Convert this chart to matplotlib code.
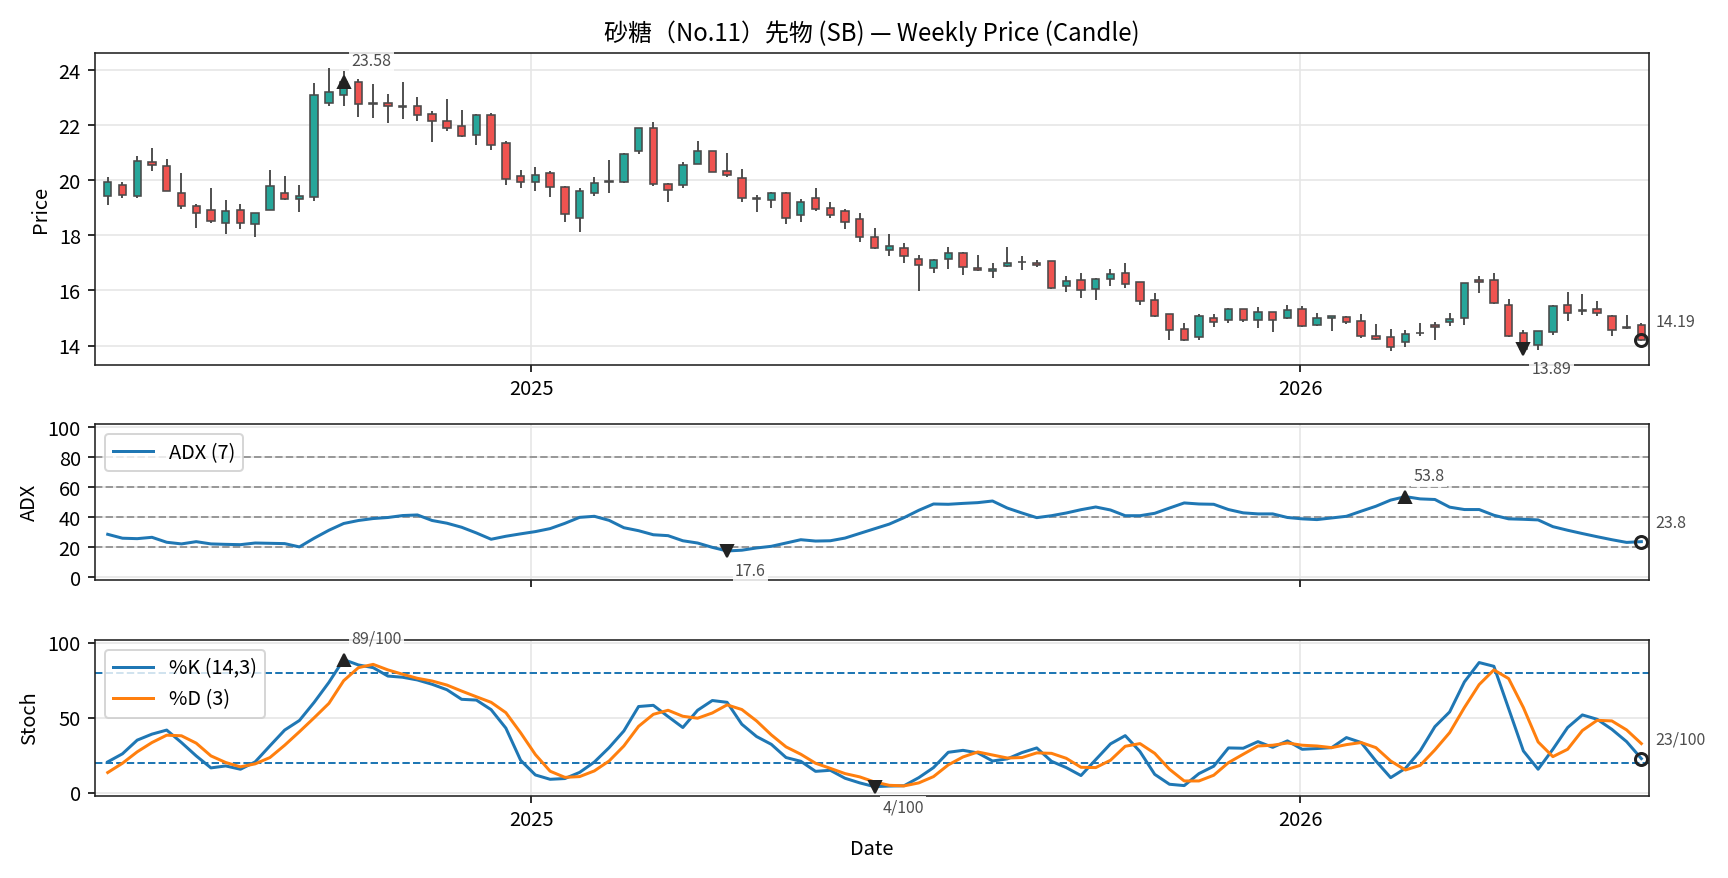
import matplotlib
matplotlib.use("Agg")
import matplotlib.pyplot as plt
import matplotlib.dates as mdates
import numpy as np
import pandas as pd

plt.rcParams['font.family'] = ['Noto Sans CJK JP', 'DejaVu Sans']
plt.rcParams['axes.edgecolor'] = '#222222'

# weekly bars (Fridays)
dates = pd.date_range('2024-06-14', periods=105, freq='W-FRI')

opens = [19.44, 19.84, 19.43, 20.68, 20.54, 19.55, 19.08, 18.93, 18.46, 18.92,
         18.42, 18.92, 19.55, 19.32, 19.39, 22.82, 23.11, 23.56, 22.80, 22.81,
         22.68, 22.69, 22.42, 22.14, 21.96, 21.65, 22.36, 21.34, 20.17, 19.94,
         20.25, 19.77, 18.63, 19.54, 19.93, 19.93, 21.08, 21.89, 19.88, 19.83,
         20.60, 21.07, 20.35, 20.10, 19.34, 19.29, 19.55, 18.75, 19.37, 19.01,
         18.88, 18.58, 17.95, 17.47, 17.56, 17.15, 16.83, 17.13, 17.37, 16.81,
         16.71, 16.88, 17.02, 17.01, 17.07, 16.15, 16.38, 16.04, 16.41, 16.62,
         16.30, 15.65, 15.13, 14.60, 14.30, 15.00, 14.91, 15.32, 14.91, 15.21,
         15.00, 15.34, 14.73, 15.00, 15.04, 14.89, 14.34, 14.30, 14.11, 14.44,
         14.75, 14.84, 15.00, 16.37, 16.38, 15.49, 14.46, 14.01, 14.49, 15.47,
         15.30, 15.34, 15.07, 14.66, 14.74]
highs = [20.14, 19.93, 20.88, 21.18, 20.78, 20.27, 19.14, 19.72, 19.29, 19.14,
         18.82, 20.38, 20.16, 19.83, 23.55, 24.10, 23.98, 23.67, 23.51, 23.15,
         23.56, 23.04, 22.53, 22.97, 22.57, 22.42, 22.46, 21.42, 20.37, 20.49,
         20.33, 19.80, 19.71, 20.12, 20.74, 20.99, 21.90, 22.13, 19.89, 20.67,
         21.44, 21.08, 20.99, 20.42, 19.47, 19.56, 19.57, 19.31, 19.72, 19.20,
         18.96, 18.81, 18.26, 18.05, 17.72, 17.28, 17.13, 17.57, 17.39, 17.28,
         16.98, 17.57, 17.24, 17.10, 17.08, 16.54, 16.65, 16.47, 16.79, 16.99,
         16.32, 15.92, 15.14, 14.83, 15.15, 15.15, 15.37, 15.33, 15.39, 15.22,
         15.46, 15.45, 15.19, 15.09, 15.08, 15.13, 14.80, 14.61, 14.58, 14.83,
         14.85, 15.19, 16.27, 16.54, 16.65, 15.70, 14.57, 14.53, 15.48, 15.96,
         15.88, 15.63, 15.11, 15.12, 14.81]
lows = [19.12, 19.35, 19.35, 20.35, 19.60, 18.97, 18.28, 18.44, 18.06, 18.24,
        17.95, 18.92, 19.27, 18.86, 19.26, 22.69, 22.72, 22.32, 22.27, 22.10,
        22.24, 22.14, 21.40, 21.81, 21.59, 21.27, 21.12, 19.84, 19.74, 19.63,
        19.41, 18.50, 18.13, 19.44, 19.55, 19.89, 20.94, 19.78, 19.22, 19.71,
        20.59, 20.29, 20.11, 19.22, 18.86, 19.01, 18.42, 18.50, 18.87, 18.64,
        18.24, 17.77, 17.51, 17.26, 17.01, 15.98, 16.65, 16.78, 16.58, 16.69,
        16.45, 16.87, 16.75, 16.86, 16.05, 15.94, 15.73, 15.65, 16.16, 16.09,
        15.47, 15.04, 14.21, 14.16, 14.21, 14.68, 14.81, 14.85, 14.63, 14.49,
        14.97, 14.68, 14.70, 14.52, 14.79, 14.27, 14.21, 13.79, 13.95, 14.34,
        14.19, 14.70, 14.74, 15.91, 15.52, 14.32, 13.85, 13.83, 14.38, 14.89,
        15.11, 15.07, 14.34, 14.61, 14.15]
closes = [19.95, 19.48, 20.72, 20.56, 19.61, 19.08, 18.82, 18.52, 18.90, 18.46,
          18.82, 19.81, 19.32, 19.44, 23.09, 23.21, 23.58, 22.77, 22.76, 22.70,
          22.66, 22.38, 22.14, 21.90, 21.62, 22.36, 21.29, 20.05, 19.95, 20.21,
          19.77, 18.79, 19.60, 19.92, 19.97, 20.97, 21.89, 19.87, 19.65, 20.57,
          21.08, 20.31, 20.18, 19.36, 19.32, 19.55, 18.63, 19.22, 18.96, 18.75,
          18.50, 17.95, 17.56, 17.60, 17.26, 16.93, 17.11, 17.37, 16.84, 16.73,
          16.77, 17.00, 17.05, 16.92, 16.08, 16.35, 16.02, 16.43, 16.60, 16.22,
          15.60, 15.09, 14.55, 14.21, 15.07, 14.87, 15.32, 14.91, 15.21, 14.91,
          15.29, 14.70, 15.00, 15.08, 14.84, 14.36, 14.23, 13.93, 14.41, 14.47,
          14.68, 14.97, 16.26, 16.30, 15.56, 14.34, 13.89, 14.52, 15.43, 15.17,
          15.24, 15.17, 14.55, 14.63, 14.19]

adx = [28.7, 26.1, 25.8, 26.7, 23.4, 22.3, 23.8, 22.3, 22.0, 21.8,
       22.9, 22.7, 22.5, 20.3, 26.1, 31.4, 35.9, 37.9, 39.2, 39.9,
       41.2, 41.6, 37.9, 36.1, 33.4, 29.6, 25.4, 27.4, 29.0, 30.5,
       32.5, 36.0, 40.0, 40.7, 38.0, 33.1, 31.1, 28.4, 27.8, 24.4,
       22.9, 20.0, 17.6, 18.1, 19.6, 20.7, 22.9, 25.1, 24.2, 24.4,
       26.2, 29.3, 32.4, 35.5, 39.8, 44.7, 48.9, 48.7, 49.3, 49.8,
       50.9, 46.2, 42.9, 39.8, 41.1, 42.9, 45.1, 46.9, 44.9, 41.1,
       41.1, 42.7, 46.2, 49.6, 48.9, 48.7, 45.2, 43.0, 42.3, 42.3,
       39.9, 39.0, 38.5, 39.6, 40.7, 44.1, 47.4, 51.5, 53.8, 52.3,
       51.9, 46.8, 45.2, 45.2, 41.4, 39.0, 38.7, 38.3, 33.8, 31.4,
       29.2, 27.1, 25.1, 23.3, 23.8]

stoch_k = [20.7, 26.1, 35.2, 39.2, 41.9, 33.6, 24.7, 16.7, 18.0, 15.8,
           20.7, 31.4, 41.9, 48.3, 60.4, 73.7, 88.9, 85.3, 83.5, 77.9,
           77.1, 75.3, 72.4, 68.8, 62.4, 61.9, 55.5, 43.2, 21.8, 12.0,
           9.1, 9.6, 13.7, 20.6, 30.2, 41.3, 57.6, 58.4, 50.9, 43.6,
           55.1, 61.6, 60.4, 45.8, 37.6, 32.4, 23.6, 21.1, 14.4, 15.1,
           9.8, 6.7, 4.2, 4.6, 4.8, 10.2, 16.9, 27.1, 28.4, 26.7,
           21.3, 22.7, 26.9, 30.0, 21.1, 16.9, 11.6, 22.2, 32.7, 38.2,
           27.6, 12.4, 5.8, 4.9, 12.9, 17.8, 30.0, 29.8, 34.2, 30.4,
           34.7, 29.1, 29.6, 30.2, 36.9, 33.6, 21.3, 10.2, 16.4, 28.0,
           44.2, 54.0, 74.0, 86.9, 84.4, 56.2, 28.0, 15.8, 29.1, 43.6,
           52.0, 49.1, 42.4, 34.2, 22.9]

stoch_d = [13.6, 19.8, 27.4, 33.6, 38.5, 38.1, 33.2, 24.7, 20.3, 17.4,
           19.4, 23.6, 31.8, 40.8, 50.1, 59.7, 74.8, 83.5, 85.7, 82.0,
           79.1, 76.4, 74.6, 71.9, 67.9, 64.1, 60.4, 53.5, 40.1, 25.6,
           14.5, 10.4, 10.9, 14.7, 21.3, 31.3, 44.4, 52.4, 55.1, 51.1,
           49.8, 53.3, 58.7, 55.6, 48.0, 38.7, 30.7, 25.8, 19.8, 16.4,
           12.9, 10.7, 7.3, 5.1, 4.7, 6.7, 10.9, 18.7, 24.0, 27.3,
           25.3, 23.3, 23.6, 26.7, 26.4, 23.1, 17.1, 16.9, 21.8, 31.1,
           32.9, 26.4, 15.8, 8.0, 8.0, 11.8, 20.2, 25.8, 31.3, 31.8,
           33.3, 31.8, 31.3, 30.2, 32.2, 33.6, 30.2, 21.3, 15.3, 18.4,
           28.7, 40.2, 56.9, 72.2, 82.0, 76.2, 56.9, 34.0, 24.2, 29.1,
           41.6, 48.4, 48.0, 42.0, 32.9]

o = np.array(opens); h = np.array(highs); l = np.array(lows); c = np.array(closes)
adx = np.array(adx); stoch_k = np.array(stoch_k); stoch_d = np.array(stoch_d)

UP = '#26a69a'
DOWN = '#ef5350'
EDGE = '#4a4a4a'
MARK = '#222222'
TXT = '#4d4d4d'

fig = plt.figure(figsize=(12, 6.1), dpi=144)
gs = fig.add_gridspec(3, 1, height_ratios=[2, 1, 1], hspace=0.286,
                      left=0.0549, right=0.954, top=0.9396, bottom=0.0934)
ax1 = fig.add_subplot(gs[0])
ax2 = fig.add_subplot(gs[1])
ax3 = fig.add_subplot(gs[2])

box = dict(boxstyle='square,pad=0.15', fc='white', ec='none', alpha=0.85)


def mark(ax, x, y, marker, text, xyoff, va, hollow=False):
    if hollow:
        ax.plot([x], [y], marker=marker, ms=6, mfc='none', mec=MARK, mew=1.5,
                ls='none', zorder=6, clip_on=False)
    else:
        ax.plot([x], [y], marker=marker, ms=6, color=MARK, ls='none', zorder=6,
                clip_on=False)
    ax.annotate(text, (x, y), xytext=xyoff, textcoords='offset points',
                ha='left', va=va, fontsize=8, color=TXT, bbox=box,
                annotation_clip=False, zorder=7)


# --- candles
colors = np.where(c >= o, UP, DOWN)
ax1.vlines(dates, l, h, color='#404040', lw=0.9, zorder=2)
body_lo = np.minimum(o, c)
body_h = np.maximum(np.abs(c - o), 0.03)
ax1.bar(dates, body_h, bottom=body_lo, width=3.5, color=colors,
        edgecolor=EDGE, linewidth=0.8, zorder=3)

imax = int(np.argmax(c)); imin = int(np.argmin(c))
mark(ax1, dates[imax], c[imax], '^', f'{c[imax]:.2f}', (4, 6), 'bottom')
mark(ax1, dates[imin], c[imin], 'v', f'{c[imin]:.2f}', (4, -6), 'top')
mark(ax1, dates[-1], c[-1], 'o', f'{c[-1]:.2f}', (7, 5), 'bottom', hollow=True)

ax1.set_title('砂糖（No.11）先物 (SB) — Weekly Price (Candle)', fontsize=12)
ax1.set_ylabel('Price')
ax1.set_ylim(13.3, 24.64)
ax1.set_yticks([14, 16, 18, 20, 22, 24])
ax1.grid(True, color='#e6e6e6', lw=0.8)

# --- ADX
ax2.plot(dates, adx, color='#1f77b4', lw=1.5, label='ADX (7)')
for lv in [20, 40, 60, 80]:
    ax2.axhline(lv, color='#999999', ls='--', lw=1.0, zorder=1)
ia = int(np.argmax(adx)); ib = int(np.argmin(adx))
mark(ax2, dates[ia], adx[ia], '^', f'{adx[ia]:.1f}', (4, 6), 'bottom')
mark(ax2, dates[ib], adx[ib], 'v', f'{adx[ib]:.1f}', (4, -6), 'top')
mark(ax2, dates[-1], adx[-1], 'o', f'{adx[-1]:.1f}', (7, 5), 'bottom', hollow=True)
ax2.set_ylabel('ADX')
ax2.set_ylim(-2, 102)
ax2.set_yticks([0, 20, 40, 60, 80, 100])
ax2.grid(True, color='#e6e6e6', lw=0.8)
ax2.legend(loc='upper left')
ax2.tick_params(axis='x', labelbottom=False)

# --- Stochastic
ax3.plot(dates, stoch_k, color='#1f77b4', lw=1.5, label='%K (14,3)')
ax3.plot(dates, stoch_d, color='#ff7f0e', lw=1.5, label='%D (3)')
for lv in [20, 80]:
    ax3.axhline(lv, color='#1f77b4', ls='--', lw=1.0, zorder=1)
ka = int(np.argmax(stoch_k)); kb = int(np.argmin(stoch_k))
mark(ax3, dates[ka], stoch_k[ka], '^', f'{stoch_k[ka]:.0f}/100', (4, 6), 'bottom')
mark(ax3, dates[kb], stoch_k[kb], 'v', f'{stoch_k[kb]:.0f}/100', (4, -6), 'top')
mark(ax3, dates[-1], stoch_k[-1], 'o', f'{stoch_k[-1]:.0f}/100', (7, 5), 'bottom',
     hollow=True)
ax3.set_ylabel('Stoch')
ax3.set_xlabel('Date')
ax3.set_ylim(-2, 102)
ax3.set_yticks([0, 50, 100])
ax3.grid(True, color='#e6e6e6', lw=0.8)
ax3.legend(loc='upper left')

xl = (dates[0] - pd.Timedelta(days=6.1), dates[-1] + pd.Timedelta(days=3.4))
for ax in (ax1, ax2, ax3):
    ax.set_xlim(xl)
    ax.xaxis.set_major_locator(mdates.YearLocator())
    ax.xaxis.set_major_formatter(mdates.DateFormatter('%Y'))
    ax.set_axisbelow(True)

fig.savefig('out.png', dpi=144)
